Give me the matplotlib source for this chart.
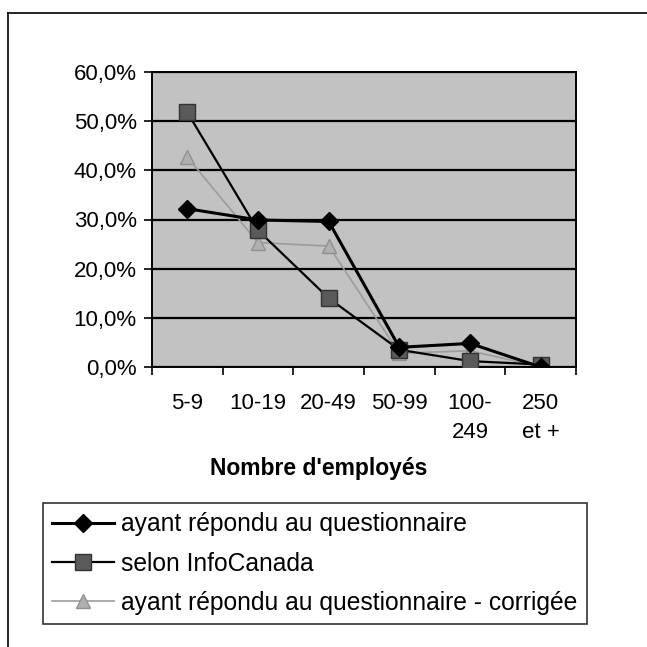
import numpy as np
import matplotlib
matplotlib.use('Agg')
import matplotlib.pyplot as plt
from matplotlib.ticker import FixedLocator, FuncFormatter

plt.rcParams['font.family'] = ['Liberation Sans', 'DejaVu Sans']

# Data (percent)
categories = ['5-9', '10-19', '20-49', '50-99', '100-\n249', '250\net +']
repondu = [32.2, 29.9, 29.6, 4.0, 4.8, 0.0]
infocanada = [51.8, 27.8, 14.0, 3.5, 1.2, 0.5]
corrigee = [42.7, 25.3, 24.6, 2.8, 3.3, 0.0]

labels = ['ayant répondu au questionnaire',
          'selon InfoCanada',
          'ayant répondu au questionnaire - corrigée']

W = H = 647
fig = plt.figure(figsize=(W / 100, H / 100), dpi=100)


def px(x0, y0, x1, y1):
    # pixel box (top-left origin) -> figure fraction rect
    return [x0 / W, 1 - y1 / H, (x1 - x0) / W, (y1 - y0) / H]


ax = fig.add_axes(px(152, 72, 576, 367))
ax.set_facecolor('#c2c2c2')

x = np.arange(len(categories))
vals = [np.array(v) / 100 for v in (repondu, infocanada, corrigee)]

l3, = ax.plot(x, vals[2], color='#9c9c9c', lw=1.2, marker='^', markersize=10,
              markerfacecolor='#b0b0b0', markeredgecolor='#909090', zorder=3)
l2, = ax.plot(x, vals[1], color='black', lw=1.6, marker='s', markersize=11,
              markerfacecolor='#5a5a5a', markeredgecolor='#333333', zorder=4)
l1, = ax.plot(x, vals[0], color='black', lw=2.2, marker='D', markersize=9,
              markerfacecolor='black', markeredgecolor='black', zorder=5)

ax.set_xlim(-0.5, len(categories) - 0.5)
ax.set_ylim(0, 0.6)
ax.set_yticks(np.arange(0, 0.61, 0.1))
ax.yaxis.set_major_formatter(FuncFormatter(lambda v, p: ('%.1f%%' % (v * 100)).replace('.', ',')))
ax.yaxis.grid(True, color='black', lw=1.6)
ax.set_axisbelow(True)

ax.set_xticks(x)
ax.set_xticklabels(categories, linespacing=1.5)
ax.xaxis.set_minor_locator(FixedLocator(np.arange(-0.5, len(categories), 1.0)))
ax.tick_params(axis='x', which='major', length=0, pad=19, labelsize=16)
ax.tick_params(axis='x', which='minor', length=6, width=1.2, direction='out')
ax.tick_params(axis='y', length=6, width=1.2, pad=5, labelsize=16)

for s in ax.spines.values():
    s.set_color('black')
    s.set_linewidth(1.4)

fig.text(319 / W, 1 - 468 / H, "Nombre d'employés", ha='center', va='center',
         fontsize=16.5, fontweight='bold')

leg = fig.legend([l1, l2, l3], labels,
                 loc='upper left', bbox_to_anchor=(43 / W, 1 - 503 / H),
                 fontsize=17.7, frameon=True, fancybox=False, borderaxespad=0,
                 handlelength=2.5, handletextpad=0.3, labelspacing=0.62,
                 borderpad=0.38)
leg.get_frame().set_edgecolor('black')
leg.get_frame().set_linewidth(1.2)

# outer frame of the chart area
fig.add_artist(plt.Line2D([8 / W, 8 / W], [0, 1 - 13 / H], color='black', lw=1.2))
fig.add_artist(plt.Line2D([8 / W, 1], [1 - 13 / H, 1 - 13 / H], color='black', lw=1.2))

fig.savefig('out.png', dpi=100)
